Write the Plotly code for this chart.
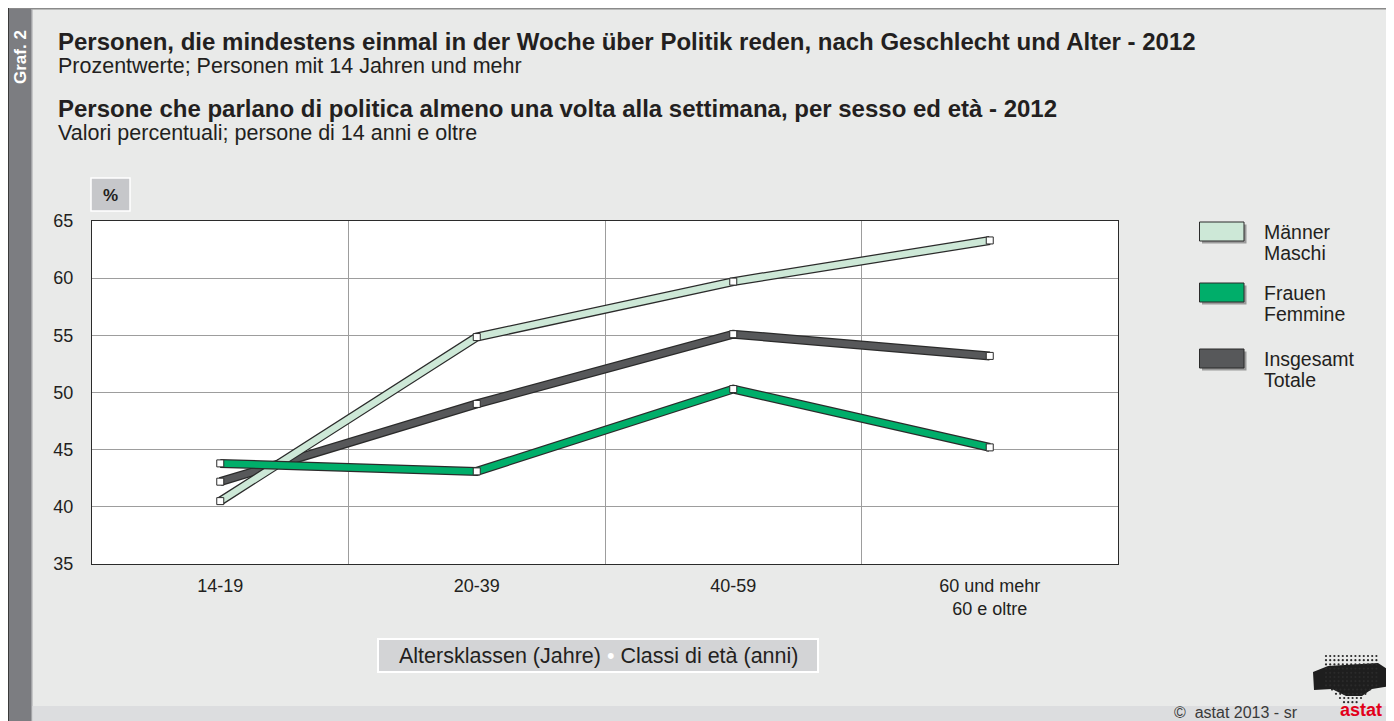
import plotly.graph_objects as go

# ---------------- data ----------------
categories = ["14-19", "20-39", "40-59", "60 und mehr<br>60 e oltre"]
men = [40.5, 54.85, 59.7, 63.3]
women = [43.8, 43.1, 50.3, 45.2]
total = [42.2, 49.0, 55.1, 53.2]
y_ticks = [35, 40, 45, 50, 55, 60, 65]

series_line1 = ["Männer", "Frauen", "Insgesamt"]
series_line2 = ["Maschi", "Femmine", "Totale"]
series_colors = ["#cde8d7", "#00ae6a", "#57585a"]

# ---------------- geometry helpers ----------------
OFF = 8                      # page body margin
W, H = 1386, 713             # figure size
SL, SR, ST, SB = 92, 1118, 221, 564   # plot area in screen pixels
L, R, T, B = SL - OFF, SR - OFF, ST - OFF, SB - OFF
FONT = "Liberation Sans, Arial, sans-serif"


def PX(x):
    return (x - SL) / (SR - SL)


def PY(y):
    return (SB - y) / (SB - ST)


def rect(x0, y0, x1, y1, fill, line=None, lw=0, layer="below"):
    return dict(type="rect", xref="paper", yref="paper",
                x0=PX(x0), x1=PX(x1), y0=PY(y1), y1=PY(y0),
                fillcolor=fill, line=dict(color=line or fill, width=lw),
                layer=layer)


def dot(x, y, r, fill):
    return dict(type="circle", xref="paper", yref="paper",
                x0=PX(x - r), x1=PX(x + r), y0=PY(y + r), y1=PY(y - r),
                fillcolor=fill, line=dict(width=0), layer="above")


def ann(x, y, text, size=17, color="#231f20", xanchor="left", yanchor="middle", bold=False, align="left"):
    if bold:
        text = "<b>" + text + "</b>"
    return dict(x=PX(x), y=PY(y), xref="paper", yref="paper", text=text,
                showarrow=False, xanchor=xanchor, yanchor=yanchor, align=align,
                font=dict(family=FONT, size=size, color=color))


xs = list(range(len(categories)))

fig = go.Figure()

# draw order: total, men, women (women on top)
order = [(total, series_colors[2]), (men, series_colors[0]), (women, series_colors[1])]
for vals, col in order:
    fig.add_trace(go.Scatter(x=xs, y=vals, mode="lines",
                             line=dict(color="#2b2b2b", width=9),
                             hoverinfo="skip", showlegend=False))
    fig.add_trace(go.Scatter(x=xs, y=vals, mode="lines+markers",
                             line=dict(color=col, width=6.5),
                             marker=dict(symbol="square", size=7, color="white",
                                         line=dict(color="#2b2b2b", width=1)),
                             showlegend=False))

shapes = []
# frame decorations (screen coordinates)
shapes.append(rect(8, 8, 1394, 9.4, "#8a8a8a"))
shapes.append(rect(8, 8, 9, 721, "#3a3a3a"))
shapes.append(rect(9, 9, 31, 721, "#7c7d81"))
shapes.append(rect(31, 9, 32.5, 721, "#a3a4a7"))
shapes.append(rect(32.5, 706, 1394, 721, "#dcdddf"))

# % box
shapes.append(rect(91, 178, 130, 211, "#c6c7ca", "white", 1.5))

# axis title box
shapes.append(rect(378, 639, 818, 672, "#d3d4d6", "white", 2))

# legend swatches
sw_tops = [222, 283, 349]
for top, col in zip(sw_tops, series_colors):
    shapes.append(rect(1202, top + 2.5, 1246.5, top + 21.5, "#9a9a9a"))
    shapes.append(rect(1199.5, top, 1244, top + 19, col, "#2b2b2b", 1))

# logo (approximation): dark blob + dot raster
logo_path = ("M {} {} L {} {} L {} {} L {} {} L {} {} L {} {} L {} {} L {} {} L {} {} L {} {} Z").format(
    PX(1313), PY(672), PX(1328), PY(666), PX(1378), PY(663), PX(1392), PY(672),
    PX(1390), PY(686), PX(1372), PY(689), PX(1362), PY(696), PX(1346), PY(696),
    PX(1332), PY(689), PX(1314), PY(690))
shapes.append(dict(type="path", xref="paper", yref="paper", path=logo_path,
                   fillcolor="#1e1e1e", line=dict(color="#1e1e1e", width=0), layer="above"))
for row in range(12):
    yy = 656 + row * 4.2
    if row < 8:
        x0, x1 = 1326, 1377
    else:
        shrink = (row - 7) * 4
        x0, x1 = 1328 + shrink, 1374 - shrink
    xx = x0
    while xx <= x1:
        shapes.append(dot(xx, yy, 1.1, "#2a2a2a"))
        xx += 4.2

annotations = [
    ann(56, 41, "Personen, die mindestens einmal in der Woche über Politik reden, nach Geschlecht und Alter - 2012", size=24, bold=True),
    ann(56, 66, "Prozentwerte; Personen mit 14 Jahren und mehr", size=21.5),
    ann(56, 108, "Persone che parlano di politica almeno una volta alla settimana, per sesso ed età - 2012", size=24, bold=True),
    ann(56, 133, "Valori percentuali; persone di 14 anni e oltre", size=21.5),
    ann(110.5, 195, "%", size=17, bold=True, xanchor="center"),
    ann(598, 656, "Altersklassen (Jahre) <span style='color:white'>•</span> Classi di età (anni)", size=21.5, xanchor="center"),
    ann(1300, 712, "©  astat 2013 - sr", size=16, color="#3a3a3a", xanchor="right"),
    ann(1361, 710, "astat", size=18, color="#e2001a", xanchor="center", bold=True),
    dict(x=PX(20), y=PY(57), xref="paper", yref="paper", text="<b>Graf. 2</b>", textangle=-90,
         showarrow=False, xanchor="center", yanchor="middle",
         font=dict(family=FONT, size=17, color="white")),
]
line1_y = [232, 293, 359]
for t1, t2, ty in zip(series_line1, series_line2, line1_y):
    annotations.append(ann(1262, ty, t1, size=19.5))
    annotations.append(ann(1262, ty + 21, t2, size=19.5))

fig.update_layout(
    width=W, height=H,
    margin=dict(l=L, r=W - R, t=T, b=H - B, pad=0),
    paper_bgcolor="#e9eae9",
    plot_bgcolor="white",
    showlegend=False,
    font=dict(family=FONT, size=18, color="#231f20"),
    shapes=shapes,
    annotations=annotations,
    xaxis=dict(range=[-0.5, 3.5], tickmode="array", tickvals=xs, ticktext=categories,
               showgrid=False, zeroline=False, showline=True, mirror=True,
               linecolor="#2b2b2b", linewidth=1, ticks="", ticklabelstandoff=5,
               tickfont=dict(size=18),
               minor=dict(tickmode="array", tickvals=[0.5, 1.5, 2.5], showgrid=True,
                          gridcolor="#9d9d9d", gridwidth=1, ticks="")),
    yaxis=dict(range=[35, 65], tickmode="array", tickvals=y_ticks, showgrid=True,
               gridcolor="#9d9d9d", gridwidth=1, zeroline=False, showline=True, mirror=True,
               linecolor="#2b2b2b", linewidth=1, ticks="", ticklabelstandoff=14,
               tickfont=dict(size=18)),
)

fig.write_html("out.html")
